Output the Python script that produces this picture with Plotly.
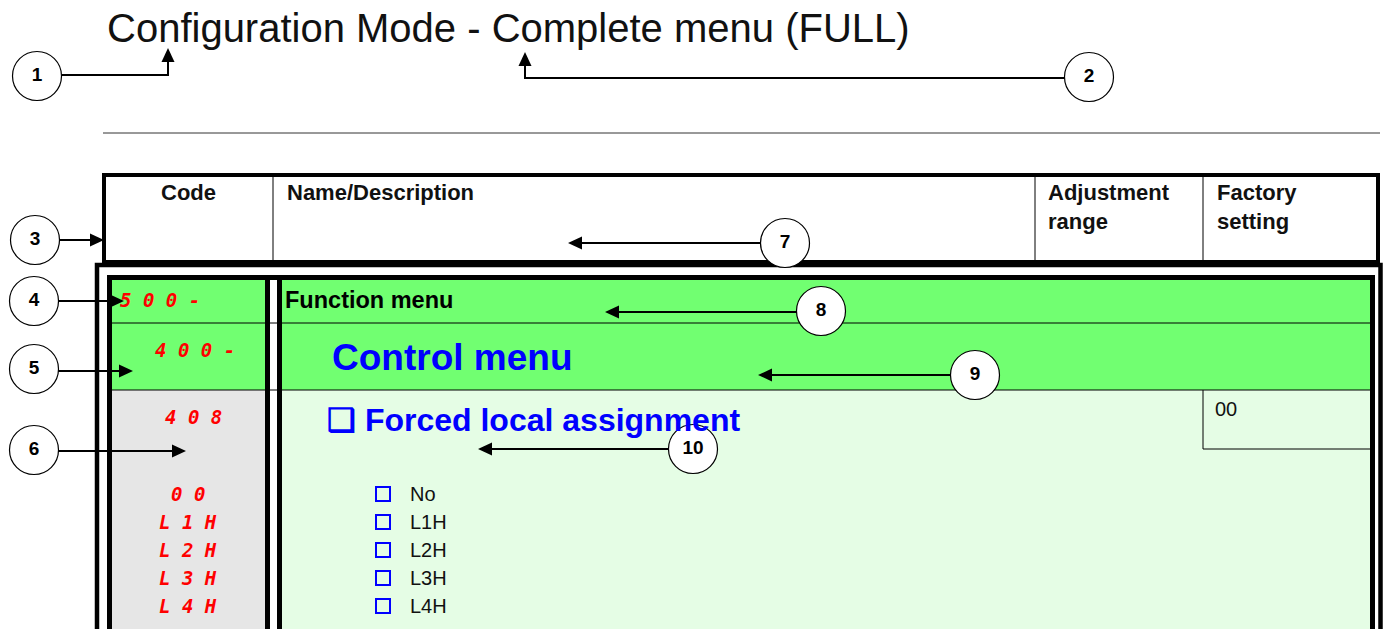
import plotly.graph_objects as go

W, H = 1390, 629
FONT = "Arial, Liberation Sans, sans-serif"
CODE_FONT = "DejaVu Sans Mono, monospace"

# ---------------- content ----------------
TITLE = "Configuration Mode - Complete menu (FULL)"

HEADERS = ["Code", "Name/Description", "Adjustment<br>range", "Factory<br>setting"]
HEADER_X = [188, 285, 1046, 1215]
HEADER_ANCHOR = ["center", "left", "left", "left"]

MENU_CODES = ["5 0 0 -", "4 0 0 -", "4 0 8"]
MENU_CODE_X = [118, 153, 163]
MENU_CODE_Y = [300, 350, 417]

MENU_NAMES = ["Function menu", "Control menu", "❑ Forced local assignment"]
MENU_NAME_X = [283, 330, 325]
MENU_NAME_Y = [300, 357, 420]
MENU_NAME_SIZE = [23.5, 37, 32]
MENU_NAME_COLOR = ["#000000", "#0000FF", "#0000FF"]

OPTION_CODES = ["0 0", "L 1 H", "L 2 H", "L 3 H", "L 4 H"]
OPTION_LABELS = ["No", "L1H", "L2H", "L3H", "L4H"]
OPTION_Y = [494, 522, 550, 578, 606]

FACTORY_SETTING = "00"

CALLOUT_NUMS = ["1", "2", "3", "4", "5", "6", "7", "8", "9", "10"]
CALLOUT_CX = [37, 1089, 35, 34, 34, 34, 785, 821, 975, 693]
CALLOUT_CY = [76, 77, 240, 301, 369, 450, 243, 311, 375, 449]
ARROW_TIP_X = [168, 525, 104, 124, 133, 186, 568, 605, 758, 478]
ARROW_TIP_Y = [48, 52, 240, 301, 371, 451, 243, 312, 375, 449]
ARROW_DIR = ["up", "up", "right", "right", "right", "right", "left", "left", "left", "left"]
ARROW_ELBOW_Y = [75, 78, None, None, None, None, None, None, None, None]

# ---------------- colours ----------------
GREEN = "#71FF71"
LIGHT_GREEN = "#E5FDE5"
GRAY = "#E6E6E6"
RED = "#FF0000"
BLUE = "#0000FF"

shapes = []
ann = []


def rect(x0, y0, x1, y1, fill=None, lw=0, lc="black"):
    shapes.append(dict(type="rect", xref="x", yref="y", x0=x0, y0=y0, x1=x1, y1=y1,
                       layer="below",
                       fillcolor=fill if fill else "rgba(0,0,0,0)",
                       line=dict(width=lw, color=lc)))


def line(x0, y0, x1, y1, lw=1, lc="black"):
    shapes.append(dict(type="line", xref="x", yref="y", x0=x0, y0=y0, x1=x1, y1=y1,
                       layer="below", line=dict(width=lw, color=lc)))


def head(tx, ty, d, L=14, w=6.5):
    if d == "up":
        p = f"M{tx},{ty} L{tx-w},{ty+L} L{tx+w},{ty+L} Z"
    elif d == "right":
        p = f"M{tx},{ty} L{tx-L},{ty-w} L{tx-L},{ty+w} Z"
    else:
        p = f"M{tx},{ty} L{tx+L},{ty-w} L{tx+L},{ty+w} Z"
    shapes.append(dict(type="path", xref="x", yref="y", path=p, fillcolor="black",
                       layer="below", line=dict(width=0)))


# --- horizontal rule under the title
line(103, 133, 1380, 133, 1, "#333333")

# --- header table
rect(104, 175, 1378, 262, "white", 4)
for vx in [273, 1035, 1203]:
    line(vx, 177, vx, 260, 1)

# --- outer body box
rect(97, 265, 1380.5, 720, "white", 4.5)

# --- inner box backgrounds
rect(112, 280, 265, 390, GREEN)
rect(282, 280, 1370, 390, GREEN)
rect(112, 390, 265, 720, GRAY)
rect(282, 390, 1370, 720, LIGHT_GREEN)
rect(270, 280, 277, 720, "white")
# row separators
line(112, 323, 1370, 323, 1)
line(112, 390, 1370, 390, 1)
# factory setting cell
line(1203, 390, 1203, 449, 1)
line(1203, 449, 1370, 449, 1)
# thick inner borders
rect(109.5, 277.5, 1372.5, 720, None, 5)
line(267.5, 278, 267.5, 720, 5)
line(279.5, 278, 279.5, 720, 5)

# --- callout arrows
for cx, cy, tx, ty, d, ey in zip(CALLOUT_CX, CALLOUT_CY, ARROW_TIP_X, ARROW_TIP_Y,
                                 ARROW_DIR, ARROW_ELBOW_Y):
    if d == "up":
        sx = cx + 25 if tx > cx else cx - 25
        shapes.append(dict(type="path", xref="x", yref="y", layer="below",
                           path=f"M{sx},{ey} L{tx},{ey} L{tx},{ty+12}",
                           line=dict(width=2, color="black")))
    elif d == "right":
        line(cx + 24, ty, tx - 12, ty, 2)
    else:
        line(cx - 24, ty, tx + 12, ty, 2)
    head(tx, ty, d)

# --- title
ann.append(dict(x=105, y=28, text=TITLE, xanchor="left", yanchor="middle", showarrow=False,
                font=dict(family=FONT, size=40, color="#111111")))

# --- headers
for t, x, a in zip(HEADERS, HEADER_X, HEADER_ANCHOR):
    ann.append(dict(x=x, y=178, text=f"<b>{t}</b>", xanchor=a, yanchor="top", showarrow=False,
                    align="left", font=dict(family=FONT, size=22, color="#111111")))

# --- menu codes (red display codes)
for t, x, y in zip(MENU_CODES, MENU_CODE_X, MENU_CODE_Y):
    ann.append(dict(x=x, y=y, text=f"<b><i>{t}</i></b>", xanchor="left", yanchor="middle",
                    showarrow=False, font=dict(family=CODE_FONT, size=19, color=RED)))

# --- menu names
for t, x, y, s, c in zip(MENU_NAMES, MENU_NAME_X, MENU_NAME_Y, MENU_NAME_SIZE, MENU_NAME_COLOR):
    ann.append(dict(x=x, y=y, text=f"<b>{t}</b>", xanchor="left", yanchor="middle",
                    showarrow=False, font=dict(family=FONT, size=s, color=c)))

# --- option codes and labels
for t, y in zip(OPTION_CODES, OPTION_Y):
    ann.append(dict(x=188, y=y, text=f"<b><i>{t}</i></b>", xanchor="center", yanchor="middle",
                    showarrow=False, font=dict(family=CODE_FONT, size=19, color=RED)))
for t, y in zip(OPTION_LABELS, OPTION_Y):
    ann.append(dict(x=408, y=y, text=t, xanchor="left", yanchor="middle",
                    showarrow=False, font=dict(family=FONT, size=20, color="#111111")))

ann.append(dict(x=1213, y=409, text=FACTORY_SETTING, xanchor="left", yanchor="middle",
                showarrow=False, font=dict(family=FONT, size=20, color="#111111")))

fig = go.Figure()

# checkboxes
fig.add_trace(go.Scatter(x=[383] * len(OPTION_Y), y=OPTION_Y, mode="markers",
                         marker=dict(symbol="square-open", size=14, color=BLUE,
                                     line=dict(width=2, color=BLUE)),
                         hoverinfo="skip"))

# callout circles
fig.add_trace(go.Scatter(x=CALLOUT_CX, y=CALLOUT_CY, mode="markers+text",
                         text=[f"<b>{n}</b>" for n in CALLOUT_NUMS],
                         textposition="middle center",
                         textfont=dict(family=FONT, size=19, color="black"),
                         marker=dict(symbol="circle", size=49, color="white",
                                     line=dict(width=1.2, color="black")),
                         hoverinfo="skip"))

fig.update_layout(
    width=W, height=H,
    margin=dict(l=0, r=0, t=0, b=0),
    paper_bgcolor="white", plot_bgcolor="white",
    showlegend=False,
    xaxis=dict(range=[0, W], visible=False, fixedrange=True),
    yaxis=dict(range=[H, 0], visible=False, fixedrange=True),
    shapes=shapes,
    annotations=ann,
)

fig.write_html("out.html",
               config={"displayModeBar": False, "staticPlot": True},
               post_script="document.body.style.margin='0';document.body.style.overflow='hidden';")
